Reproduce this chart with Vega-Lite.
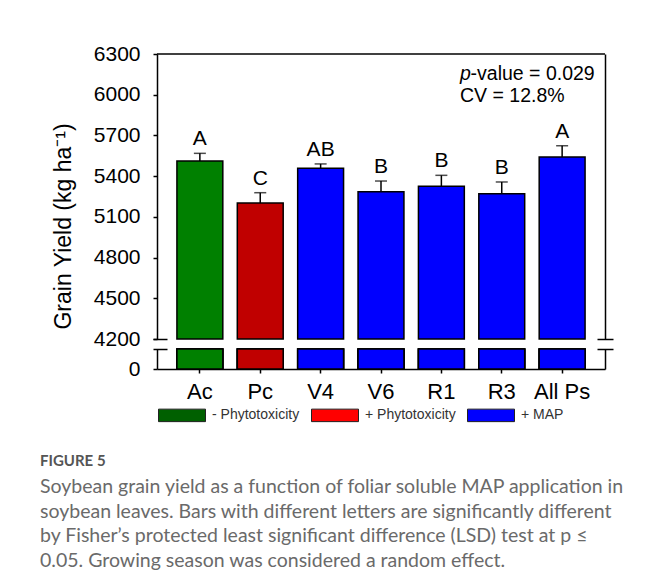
{
  "$schema": "https://vega.github.io/schema/vega-lite/v6.json",
  "padding": {"left": 40, "top": 43, "right": 5, "bottom": 5},
  "autosize": {"type": "pad"},
  "background": "white",
  "datasets": {
    "bars": [
      {"trt": "Ac", "yield": 5512, "upper": 5568, "letter": "A", "group": "- Phytotoxicity"},
      {"trt": "Pc", "yield": 5202, "upper": 5278, "letter": "C", "group": "+ Phytotoxicity"},
      {"trt": "V4", "yield": 5458, "upper": 5490, "letter": "AB", "group": "+ MAP"},
      {"trt": "V6", "yield": 5285, "upper": 5364, "letter": "B", "group": "+ MAP"},
      {"trt": "R1", "yield": 5325, "upper": 5406, "letter": "B", "group": "+ MAP"},
      {"trt": "R3", "yield": 5271, "upper": 5357, "letter": "B", "group": "+ MAP"},
      {"trt": "All Ps", "yield": 5541, "upper": 5624, "letter": "A", "group": "+ MAP"}
    ]
  },
  "data": {"name": "bars"},
  "bounds": "flush",
  "spacing": 10,
  "title": {
    "text": "FIGURE 5",
    "subtitle": [
      "Soybean grain yield as a function of foliar soluble MAP application in",
      "soybean leaves. Bars with different letters are significantly different",
      "by Fisher’s protected least significant difference (LSD) test at p ≤",
      "0.05. Growing season was considered a random effect."
    ],
    "orient": "bottom",
    "anchor": "start",
    "frame": "group",
    "dx": -117,
    "offset": 30,
    "font": "Lato",
    "fontSize": 15,
    "fontWeight": "bold",
    "color": "#555555",
    "subtitleFont": "Lato",
    "subtitleFontSize": 19.5,
    "subtitleColor": "#6a6a6a",
    "subtitleLineHeight": 24.5,
    "subtitlePadding": 9
  },
  "vconcat": [
    {
      "width": 448,
      "height": 285,
      "resolve": {"axis": {"y": "independent"}},
      "layer": [
        {
          "mark": {"type": "bar", "stroke": "black", "strokeWidth": 1.5},
          "encoding": {
            "x": {"field": "trt", "type": "nominal", "scale": {"domain": ["Ac", "Pc", "V4", "V6", "R1", "R3", "All Ps"], "paddingInner": 0.24, "paddingOuter": 0.33}, "axis": null},
            "y": {"field": "yield", "type": "quantitative", "scale": {"domain": [4200, 6300]},
              "axis": {"orient": "left", "values": [4200, 4500, 4800, 5100, 5400, 5700, 6000, 6300], "format": "d", "tickSize": 4, "labelPadding": 13, "labelFontSize": 21, "title": "Grain Yield (kg ha⁻¹)", "titleFontSize": 23, "titleX": -94, "titleY": 172, "titleAngle": 270, "titleBaseline": "middle", "titleAlign": "center"}},
            "y2": {"datum": 4200},
            "fill": {"field": "trt", "type": "nominal", "scale": {"domain": ["Ac", "Pc", "V4", "V6", "R1", "R3", "All Ps"], "range": ["#008000", "#c00000", "#0000ff", "#0000ff", "#0000ff", "#0000ff", "#0000ff"]}, "legend": null}
          }
        },
        {
          "mark": {"type": "rule", "stroke": "black", "strokeWidth": 1.5},
          "encoding": {
            "x": {"field": "trt", "type": "nominal", "scale": {"domain": ["Ac", "Pc", "V4", "V6", "R1", "R3", "All Ps"], "paddingInner": 0.24, "paddingOuter": 0.33}, "axis": null},
            "y": {"field": "yield", "type": "quantitative", "scale": {"domain": [4200, 6300]},
              "axis": {"orient": "left", "title": null, "labels": false, "domain": false, "values": [4200], "tickSize": 14, "offset": -10}},
            "y2": {"field": "upper"}
          }
        },
        {
          "mark": {"type": "tick", "color": "black", "size": 12, "thickness": 1.5},
          "encoding": {
            "x": {"field": "trt", "type": "nominal", "scale": {"domain": ["Ac", "Pc", "V4", "V6", "R1", "R3", "All Ps"], "paddingInner": 0.24, "paddingOuter": 0.33}, "axis": null},
            "y": {"field": "upper", "type": "quantitative", "scale": {"domain": [4200, 6300]},
              "axis": {"orient": "right", "title": null, "labels": false, "domain": false, "values": [4200], "tickSize": 16, "offset": -8}}
          }
        },
        {
          "mark": {"type": "text", "baseline": "alphabetic", "dy": -8, "fontSize": 21, "font": "Liberation Sans", "color": "black"},
          "encoding": {
            "x": {"field": "trt", "type": "nominal", "scale": {"domain": ["Ac", "Pc", "V4", "V6", "R1", "R3", "All Ps"], "paddingInner": 0.24, "paddingOuter": 0.33}, "axis": null},
            "y": {"field": "upper", "type": "quantitative", "scale": {"domain": [4200, 6300]}, "axis": null},
            "text": {"field": "letter"}
          }
        },
        {
          "data": {"values": [{"k": 1}]},
          "mark": {"type": "rule", "stroke": "black", "strokeWidth": 1.5},
          "encoding": {
            "y": {"datum": 6300, "type": "quantitative", "scale": {"domain": [4200, 6300]},
              "axis": {"orient": "right", "title": null, "labels": false, "ticks": false, "domain": true}}
          }
        },
        {
          "data": {"values": [{"k": 1}]},
          "mark": {"type": "text", "align": "left", "baseline": "alphabetic", "fontSize": 19.5, "fontStyle": "italic", "font": "Liberation Sans", "dx": 18.6, "color": "black"},
          "encoding": {
            "x": {"datum": "R1", "type": "nominal", "scale": {"domain": ["Ac", "Pc", "V4", "V6", "R1", "R3", "All Ps"], "paddingInner": 0.24, "paddingOuter": 0.33}, "axis": null},
            "y": {"datum": 6108, "type": "quantitative", "scale": {"domain": [4200, 6300]}, "axis": null},
            "text": {"value": "p"}
          }
        },
        {
          "data": {"values": [{"k": 1}]},
          "mark": {"type": "text", "align": "left", "baseline": "alphabetic", "fontSize": 19.5, "font": "Liberation Sans", "dx": 29.2, "color": "black"},
          "encoding": {
            "x": {"datum": "R1", "type": "nominal", "scale": {"domain": ["Ac", "Pc", "V4", "V6", "R1", "R3", "All Ps"], "paddingInner": 0.24, "paddingOuter": 0.33}, "axis": null},
            "y": {"datum": 6108, "type": "quantitative", "scale": {"domain": [4200, 6300]}, "axis": null},
            "text": {"value": "-value = 0.029"}
          }
        },
        {
          "data": {"values": [{"k": 1}]},
          "mark": {"type": "text", "align": "left", "baseline": "alphabetic", "fontSize": 19.5, "font": "Liberation Sans", "dx": 18.6, "color": "black"},
          "encoding": {
            "x": {"datum": "R1", "type": "nominal", "scale": {"domain": ["Ac", "Pc", "V4", "V6", "R1", "R3", "All Ps"], "paddingInner": 0.24, "paddingOuter": 0.33}, "axis": null},
            "y": {"datum": 5948, "type": "quantitative", "scale": {"domain": [4200, 6300]}, "axis": null},
            "text": {"value": "CV = 12.8%"}
          }
        }
      ]
    },
    {
      "width": 448,
      "height": 20,
      "resolve": {"axis": {"y": "independent"}},
      "layer": [
        {
          "mark": {"type": "bar", "stroke": "#222222", "strokeWidth": 1},
          "encoding": {
            "x": {"field": "trt", "type": "nominal", "scale": {"domain": ["Ac", "Pc", "V4", "V6", "R1", "R3", "All Ps"], "paddingInner": 0.24, "paddingOuter": 0.33},
              "axis": {"orient": "bottom", "title": null, "labelAngle": 0, "tickSize": 4, "labelPadding": 8, "labelFontSize": 22}},
            "y": {"field": "yield", "type": "quantitative", "scale": {"domain": [0, 4200], "clamp": true},
              "axis": {"orient": "left", "values": [0], "format": "d", "tickSize": 4, "labelPadding": 13, "labelFontSize": 21, "title": null}},
            "color": {"field": "group", "type": "nominal", "scale": {"domain": ["- Phytotoxicity", "+ Phytotoxicity", "+ MAP"], "range": ["#006000", "#ff0000", "#0000ff"]},
              "legend": {"title": null, "orient": "none", "legendX": 12, "legendY": 348, "direction": "horizontal", "symbolType": "M-1.88,-0.5H1.88V0.5H-1.88Z", "symbolSize": 625, "symbolStrokeColor": "#222222", "symbolStrokeWidth": 1, "symbolOpacity": 1, "labelFont": "Liberation Sans", "labelFontSize": 14, "labelColor": "#333333", "labelOffset": 17, "columnPadding": 9, "padding": 0}}
          }
        },
        {
          "mark": {"type": "bar", "stroke": "black", "strokeWidth": 1.5},
          "encoding": {
            "x": {"field": "trt", "type": "nominal", "scale": {"domain": ["Ac", "Pc", "V4", "V6", "R1", "R3", "All Ps"], "paddingInner": 0.24, "paddingOuter": 0.33},
              "axis": {"orient": "bottom", "title": null, "labelAngle": 0, "tickSize": 4, "labelPadding": 8, "labelFontSize": 22}},
            "y": {"field": "yield", "type": "quantitative", "scale": {"domain": [0, 4200], "clamp": true},
              "axis": {"orient": "left", "title": null, "labels": false, "domain": false, "values": [4200], "tickSize": 14, "offset": -10}},
            "fill": {"field": "trt", "type": "nominal", "scale": {"domain": ["Ac", "Pc", "V4", "V6", "R1", "R3", "All Ps"], "range": ["#008000", "#c00000", "#0000ff", "#0000ff", "#0000ff", "#0000ff", "#0000ff"]}, "legend": null}
          }
        },
        {
          "mark": {"type": "bar", "stroke": "black", "strokeWidth": 1.5},
          "encoding": {
            "x": {"field": "trt", "type": "nominal", "scale": {"domain": ["Ac", "Pc", "V4", "V6", "R1", "R3", "All Ps"], "paddingInner": 0.24, "paddingOuter": 0.33},
              "axis": {"orient": "bottom", "title": null, "labelAngle": 0, "tickSize": 4, "labelPadding": 8, "labelFontSize": 22}},
            "y": {"field": "yield", "type": "quantitative", "scale": {"domain": [0, 4200], "clamp": true},
              "axis": {"orient": "right", "title": null, "labels": false, "domain": false, "values": [4200], "tickSize": 16, "offset": -8}},
            "fill": {"field": "trt", "type": "nominal", "scale": {"domain": ["Ac", "Pc", "V4", "V6", "R1", "R3", "All Ps"], "range": ["#008000", "#c00000", "#0000ff", "#0000ff", "#0000ff", "#0000ff", "#0000ff"]}, "legend": null}
          }
        },
        {
          "mark": {"type": "bar", "stroke": "black", "strokeWidth": 1.5},
          "encoding": {
            "x": {"field": "trt", "type": "nominal", "scale": {"domain": ["Ac", "Pc", "V4", "V6", "R1", "R3", "All Ps"], "paddingInner": 0.24, "paddingOuter": 0.33},
              "axis": {"orient": "bottom", "title": null, "labelAngle": 0, "tickSize": 4, "labelPadding": 8, "labelFontSize": 22}},
            "y": {"field": "yield", "type": "quantitative", "scale": {"domain": [0, 4200], "clamp": true},
              "axis": {"orient": "right", "title": null, "labels": false, "ticks": false, "domain": true}},
            "fill": {"field": "trt", "type": "nominal", "scale": {"domain": ["Ac", "Pc", "V4", "V6", "R1", "R3", "All Ps"], "range": ["#008000", "#c00000", "#0000ff", "#0000ff", "#0000ff", "#0000ff", "#0000ff"]}, "legend": null}
          }
        }
      ]
    }
  ],
  "config": {
    "view": {"stroke": null},
    "axis": {"grid": false, "domainColor": "black", "tickColor": "black", "domainWidth": 1.5, "tickWidth": 1.5, "labelColor": "black", "labelFont": "Liberation Sans", "labelFontSize": 20, "titleFont": "Liberation Sans", "titleColor": "black", "titleFontWeight": "normal"},
    "text": {"font": "Liberation Sans"}
  }
}
